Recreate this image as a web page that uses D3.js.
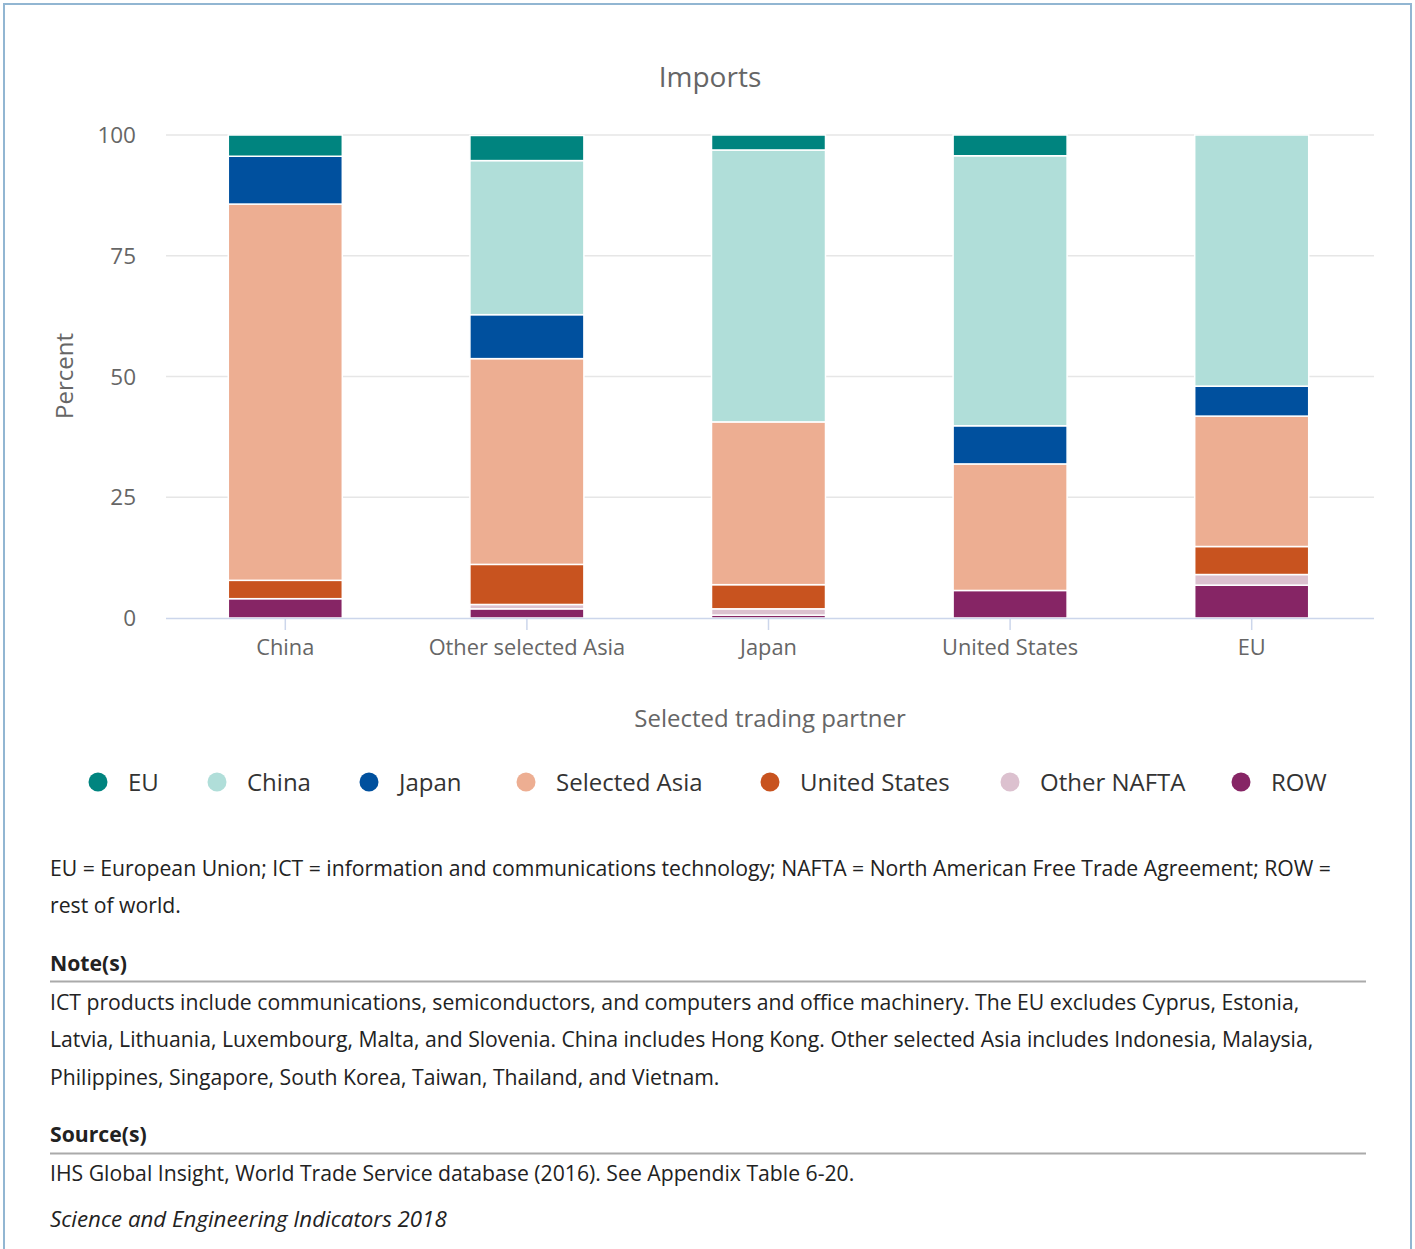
<!DOCTYPE html>
<html><head><meta charset="utf-8">
<script src="https://cdn.jsdelivr.net/npm/d3@7"></script>
<style>
html,body{margin:0;padding:0;background:#fff;}
svg{display:block;font-family:"Open Sans",sans-serif;}
</style></head>
<body>
<svg id="c" width="1415" height="1249"></svg>
<script>
const categories = ["China","Other selected Asia","Japan","United States","EU"];
const seriesNames = ["EU","China","Japan","Selected Asia","United States","Other NAFTA","ROW"];
const seriesColors = ["#00847f","#b0ded9","#00509e","#edae92","#c8531f","#dcc1cf","#862565"];
const EU           = [4.4, 5.2, 3.1, 4.3, 0];
const China        = [0, 31.9, 56.3, 55.9, 52.0];
const Japan        = [9.9, 9.1, 0, 7.9, 6.2];
const SelectedAsia = [77.9, 42.6, 33.7, 26.2, 27.0];
const UnitedStates = [3.8, 8.3, 5.0, 0, 5.8];
const OtherNAFTA   = [0, 0.9, 1.3, 0, 2.2];
const ROW          = [4.0, 1.9, 0.6, 5.7, 6.8];
const yTicks = [0,25,50,75,100];
const seriesValues = [EU, China, Japan, SelectedAsia, UnitedStates, OtherNAFTA, ROW];

(function(){
const svg = d3.select("#c");
svg.append("rect").attr("x",4).attr("y",4).attr("width",1407).attr("height",1260)
  .attr("fill","none").attr("stroke","#92b6d2").attr("stroke-width",2);

const pL=166, pR=1374, pT=135, pB=618;
const x = d3.scaleBand().domain(categories).range([pL-1.5,pR-1.5]).padding(0);
const barW = 114;
const y = d3.scaleLinear().domain([0,100]).range([pB,pT]);

svg.append("text").attr("x",710).attr("y",87).attr("text-anchor","middle")
  .attr("font-size",28).attr("fill","#666").text("Imports");

svg.append("g").selectAll("line").data(yTicks.filter(d=>d>0)).join("line")
  .attr("x1",pL).attr("x2",pR).attr("y1",d=>y(d)).attr("y2",d=>y(d))
  .attr("stroke","#e6e6e6").attr("stroke-width",1.5);

svg.append("g").selectAll("text").data(yTicks).join("text")
  .attr("x",136).attr("y",d=>y(d)+8).attr("text-anchor","end")
  .attr("font-size",22.5).attr("fill","#666").text(d=>d);

svg.append("text").attr("transform","translate(73,376) rotate(-90)")
  .attr("text-anchor","middle").attr("font-size",24).attr("fill","#666").text("Percent");

const table = categories.map((c,i)=>{const o={cat:c}; seriesNames.forEach((s,j)=>o[s]=seriesValues[j][i]); return o;});
const stacked = d3.stack().keys(seriesNames.slice().reverse())(table);
const colorOf = d3.scaleOrdinal().domain(seriesNames).range(seriesColors);

svg.append("g").selectAll("g").data(stacked).join("g")
  .attr("fill",d=>colorOf(d.key))
  .selectAll("rect").data(d=>d.filter(v=>v[1]-v[0]>0)).join("rect")
  .attr("x",d=>x(d.data.cat)+x.bandwidth()/2-barW/2)
  .attr("width",barW)
  .attr("y",d=>y(d[1]))
  .attr("height",d=>y(d[0])-y(d[1]))
  .attr("stroke","#fff").attr("stroke-width",1.5);

svg.append("line").attr("x1",pL).attr("x2",pR).attr("y1",pB+0.5).attr("y2",pB+0.5)
  .attr("stroke","#ccd6eb").attr("stroke-width",1.5);
svg.append("g").selectAll("line").data(categories).join("line")
  .attr("x1",d=>x(d)+x.bandwidth()/2).attr("x2",d=>x(d)+x.bandwidth()/2)
  .attr("y1",pB).attr("y2",pB+12).attr("stroke","#ccd6eb").attr("stroke-width",1.5);
svg.append("g").selectAll("text").data(categories).join("text")
  .attr("x",d=>x(d)+x.bandwidth()/2).attr("y",655).attr("text-anchor","middle")
  .attr("font-size",21.8).attr("fill","#666").text(d=>d);
svg.append("text").attr("x",770).attr("y",727).attr("text-anchor","middle")
  .attr("font-size",24).attr("fill","#666").text("Selected trading partner");

const legX = [98,217,369,526,770,1010,1241];
const lg = svg.append("g").selectAll("g").data(seriesNames).join("g")
  .attr("transform",(d,i)=>`translate(${legX[i]},782)`);
lg.append("circle").attr("r",9.5).attr("fill",d=>colorOf(d));
lg.append("text").attr("x",30).attr("y",9).attr("font-size",24).attr("fill","#333").text(d=>d);

const txt = (s,yy,opts={})=>svg.append("text").attr("x",50).attr("y",yy).attr("font-size",opts.italic?22.3:21.2)
  .attr("fill","#222").attr("font-weight",opts.bold?"bold":null).attr("font-style",opts.italic?"italic":null).text(s);
txt("EU = European Union; ICT = information and communications technology; NAFTA = North American Free Trade Agreement; ROW =",876);
txt("rest of world.",913);
txt("Note(s)",971,{bold:true});
svg.append("line").attr("x1",50).attr("x2",1366).attr("y1",981.5).attr("y2",981.5).attr("stroke","#aaa").attr("stroke-width",2);
txt("ICT products include communications, semiconductors, and computers and office machinery. The EU excludes Cyprus, Estonia,",1010);
txt("Latvia, Lithuania, Luxembourg, Malta, and Slovenia. China includes Hong Kong. Other selected Asia includes Indonesia, Malaysia,",1047);
txt("Philippines, Singapore, South Korea, Taiwan, Thailand, and Vietnam.",1085);
txt("Source(s)",1142,{bold:true});
svg.append("line").attr("x1",50).attr("x2",1366).attr("y1",1153.5).attr("y2",1153.5).attr("stroke","#aaa").attr("stroke-width",2);
txt("IHS Global Insight, World Trade Service database (2016). See Appendix Table 6-20.",1181);
txt("Science and Engineering Indicators 2018",1227,{italic:true});
})();
</script>
</body></html>
